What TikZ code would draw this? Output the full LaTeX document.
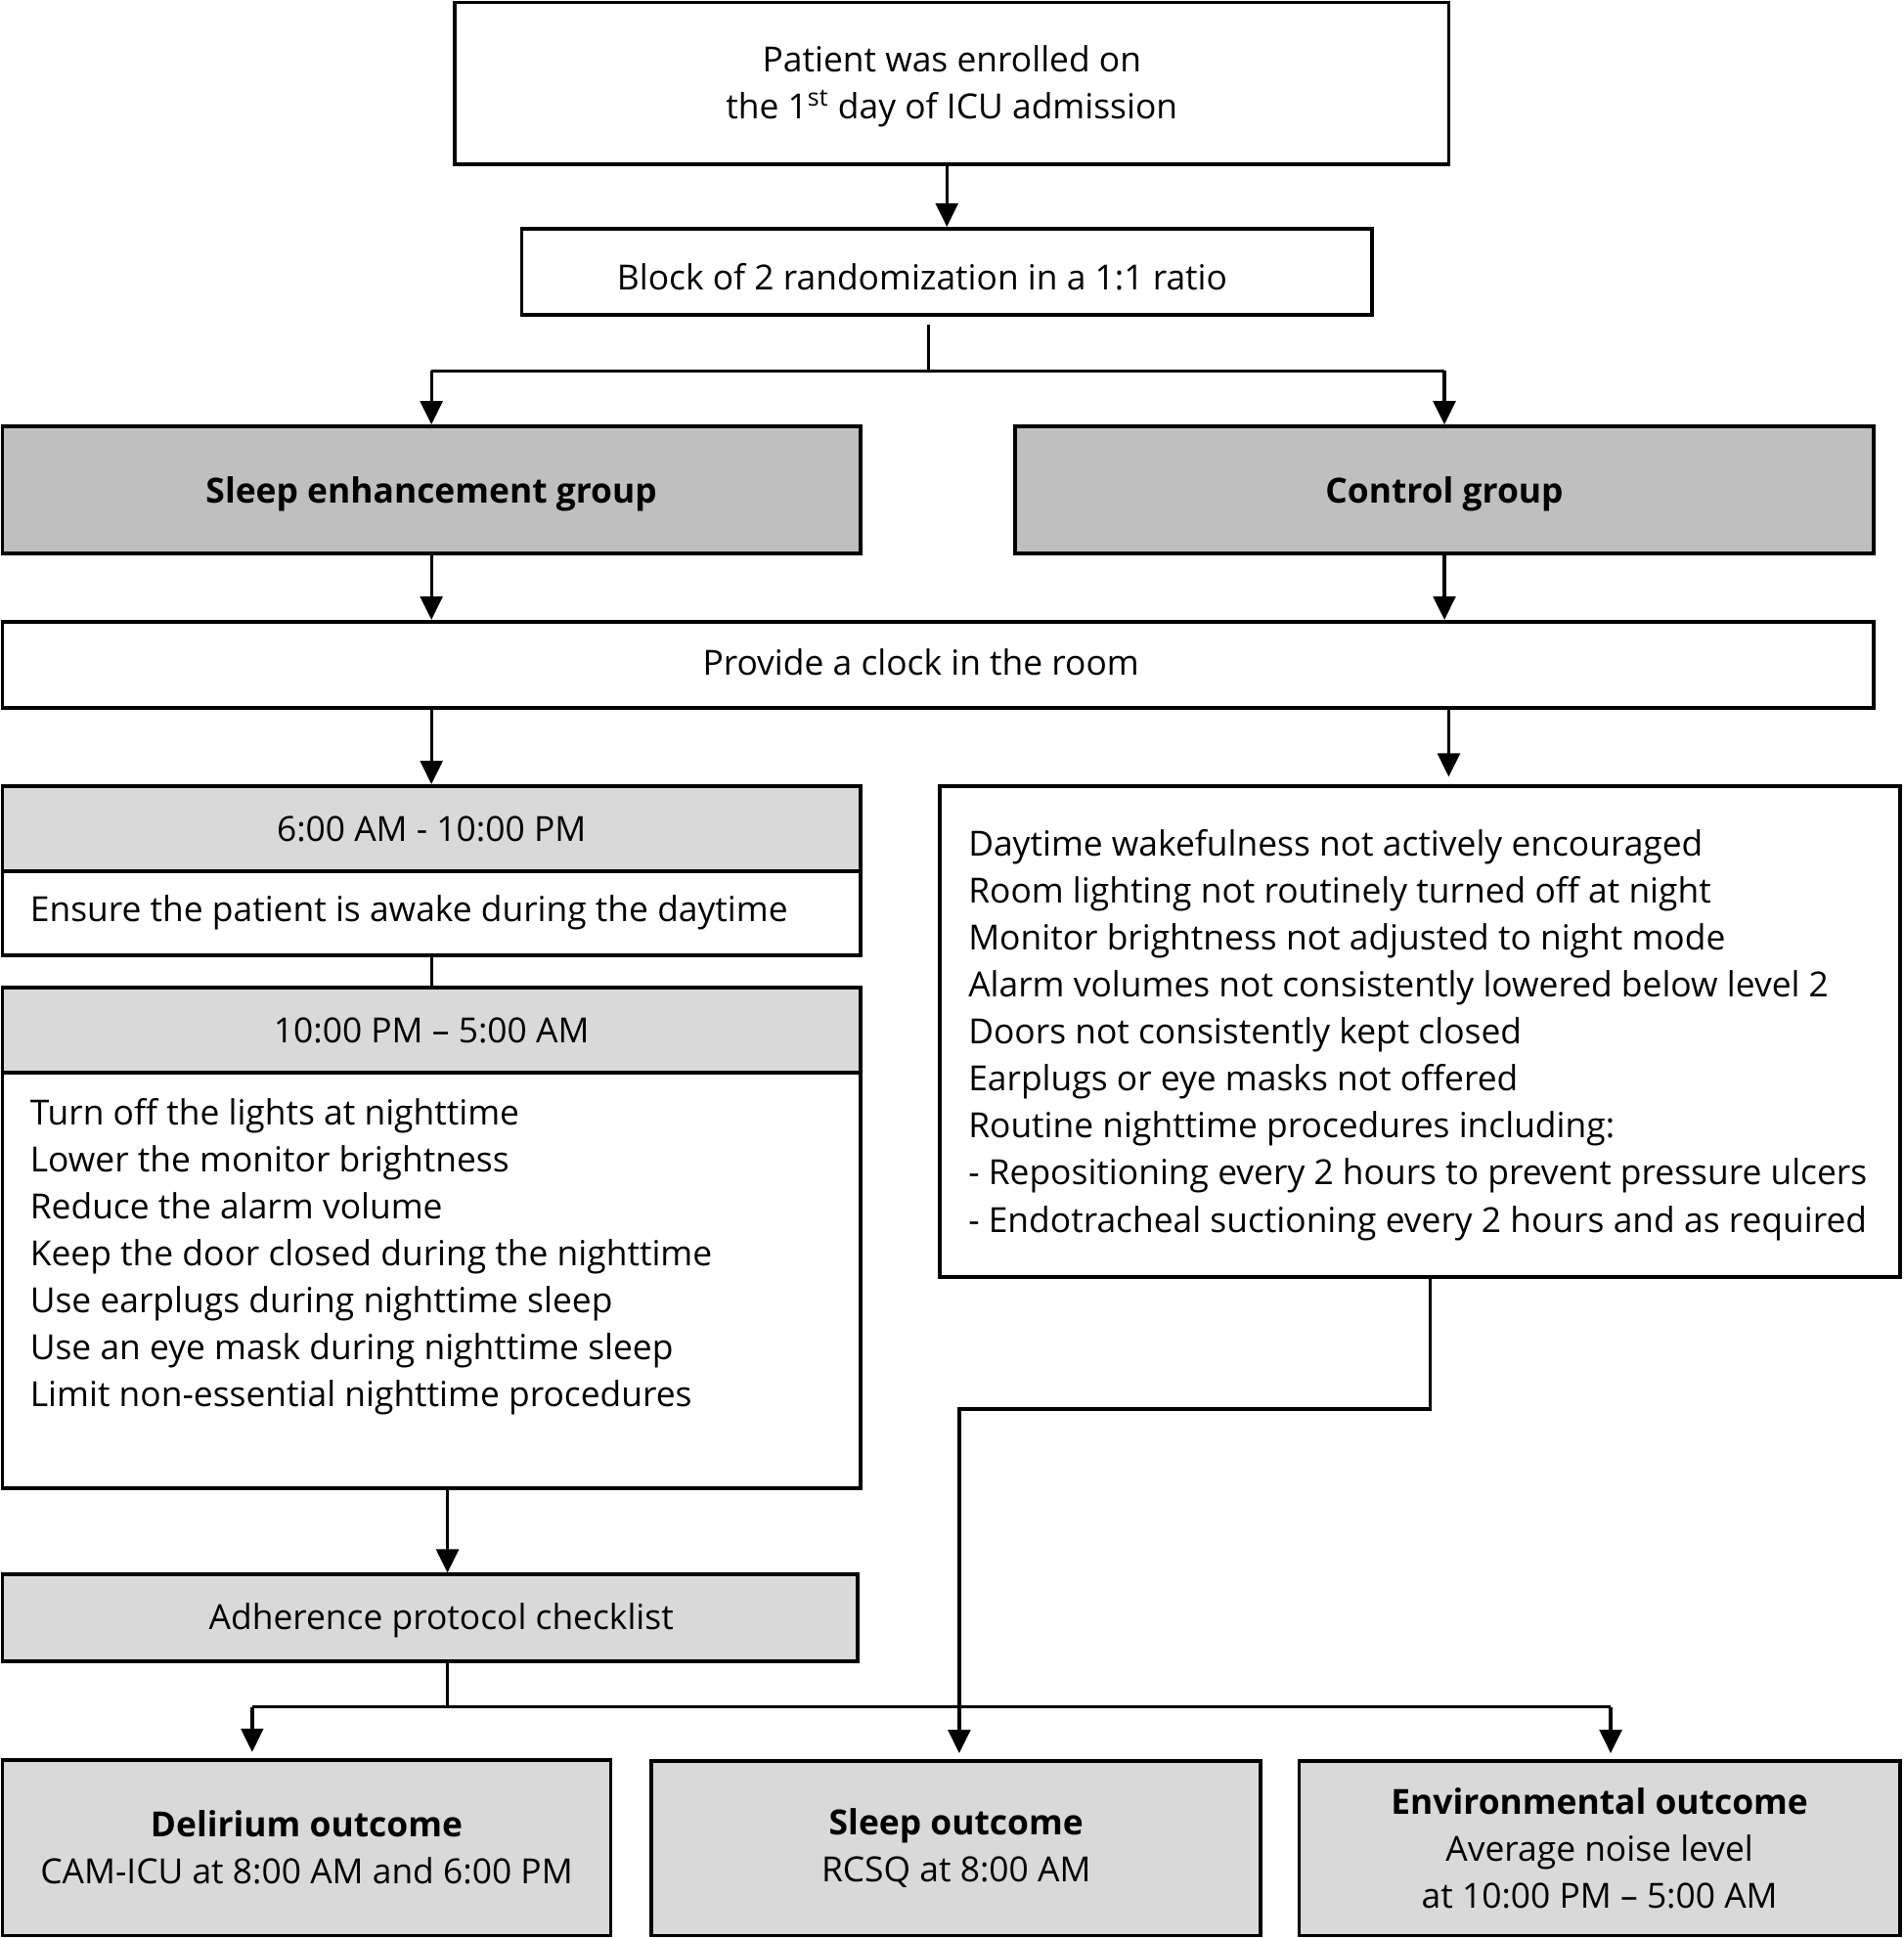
\documentclass[tikz,border=0pt]{standalone}
\usepackage{fontspec}
\setmainfont{Open Sans}
\usetikzlibrary{arrows.meta}
\definecolor{grpgray}{HTML}{BFBFBF}
\definecolor{hdrgray}{HTML}{D9D9D9}
\tikzset{
  box/.style={draw, line width=1.5pt, inner sep=0pt, anchor=center, align=center},
  grp/.style={box, fill=grpgray, font=\fontsize{14pt}{19pt}\selectfont\bfseries},
  hdr/.style={box, fill=hdrgray},
  conn/.style={line width=1.3pt},
  arr/.style={conn, -{Triangle[length=9.5pt,width=9pt]}},
  lst/.style={anchor=north west, align=left, inner sep=0pt}
}
\begin{document}
\begin{tikzpicture}[x=0.5pt,y=-0.5pt,
  every node/.style={font=\fontsize{14pt}{19pt}\selectfont}]
\useasboundingbox (0,0) rectangle (1540,1568);

% boxes
\node[box, minimum width=402pt, minimum height=65.5pt] (top) at (770,67.5) {};
\node at (770,70) [align=center] {Patient was enrolled on\\the 1\textsuperscript{st} day of ICU admission};
\node[box, minimum width=344pt, minimum height=35pt] (rand) at (766,220) {};
\node at (746,224) {Block of 2 randomization in a 1:1 ratio};

\node[grp, minimum width=347pt, minimum height=51.5pt] (sleep) at (349,396.5) {\raisebox{-1.5pt}[\height][\depth]{Sleep enhancement group}};
\node[grp, minimum width=347.5pt, minimum height=51.5pt] (ctrl) at (1168.5,396.5) {\raisebox{-1.5pt}[\height][\depth]{Control group}};

\node[box, minimum width=757pt, minimum height=35pt] (clock) at (759,538) {};
\node at (745,536) {Provide a clock in the room};

\node[hdr, minimum width=347pt, minimum height=34.5pt] (dayhead) at (349,670.5) {6:00 AM - 10:00 PM};
\node[box, minimum width=347pt, minimum height=34pt] (daybody) at (349,739) {};
\node[anchor=west, inner sep=0pt] at (24,738) {Ensure the patient is awake during the daytime};

\node[hdr, minimum width=347pt, minimum height=34.5pt] (nighthead) at (349,833.5) {10:00 PM -- 5:00 AM};
\node[box, minimum width=347pt, minimum height=168pt] (nightbody) at (349,1036) {};
\node[lst] at (24,888) {Turn off the lights at nighttime\\
Lower the monitor brightness\\
Reduce the alarm volume\\
Keep the door closed during the nighttime\\
Use earplugs during nighttime sleep\\
Use an eye mask during nighttime sleep\\
Limit non-essential nighttime procedures};

\node[box, minimum width=388.5pt, minimum height=198.5pt] (ctrllist) at (1148.5,834.5) {};
\node[lst] at (783,671) {Daytime wakefulness not actively encouraged\\
Room lighting not routinely turned off at night\\
Monitor brightness not adjusted to night mode\\
Alarm volumes not consistently lowered below level 2\\
Doors not consistently kept closed\\
Earplugs or eye masks not offered\\
Routine nighttime procedures including:\\
- Repositioning every 2 hours to prevent pressure ulcers\\
- Endotracheal suctioning every 2 hours and as required};

\node[hdr, minimum width=346pt, minimum height=35pt] (adh) at (348,1309) {};
\node at (357,1311) {Adherence protocol checklist};

\node[hdr, minimum width=246pt, minimum height=71pt] (delir) at (248,1495) {\textbf{Delirium outcome}\\CAM-ICU at 8:00 AM and 6:00 PM};
\node[hdr, minimum width=246.5pt, minimum height=70.5pt] (sleepout) at (773.5,1495.5) {\textbf{Sleep outcome}\\RCSQ at 8:00 AM};
\node[hdr, minimum width=243pt, minimum height=70.5pt] (envout) at (1294,1495.5) {\textbf{Environmental outcome}\\Average noise level\\at 10:00 PM -- 5:00 AM};

% connectors
\draw[arr] (top.south -| rand.north) -- (rand.north);
\coordinate (split) at (751,300);
\draw[conn] ([yshift=-3pt]rand.south -| split) -- (split);
\draw[conn] (split) -- (split -| sleep.north);
\draw[conn] (split) -- (split -| ctrl.north);
\draw[arr] (split -| sleep.north) -- (sleep.north);
\draw[arr] (split -| ctrl.north) -- (ctrl.north);

\draw[arr] (sleep.south) -- (sleep.south |- clock.north);
\draw[arr] (ctrl.south) -- (ctrl.south |- clock.north);

\draw[arr] (clock.south -| dayhead.north) -- (dayhead.north);
\coordinate (cr) at (1172,573);
\draw[arr] (cr |- clock.south) -- ([yshift=3pt]cr |- ctrllist.north);

\draw[conn] (daybody.south) -- (nighthead.north);

\coordinate (ax) at (362,1274);
\draw[arr] (ax |- nightbody.south) -- (ax |- adh.north);

\coordinate (hub) at (362,1381);
\coordinate (dl) at (204,1381);
\coordinate (er) at (1303,1381);
\draw[conn] (hub |- adh.south) -- (hub);
\draw[conn] (dl) -- (er);
\draw[arr] (dl) -- ([yshift=2.5pt]dl |- delir.north);
\draw[arr] (er) -- ([yshift=2.5pt]er |- envout.north);

\coordinate (cb) at (1157,1140);
\coordinate (sx) at (776,1140);
\draw[arr] (cb |- ctrllist.south) -- (cb) -- (sx) -- ([yshift=2.5pt]sx |- sleepout.north);
\end{tikzpicture}
\end{document}
